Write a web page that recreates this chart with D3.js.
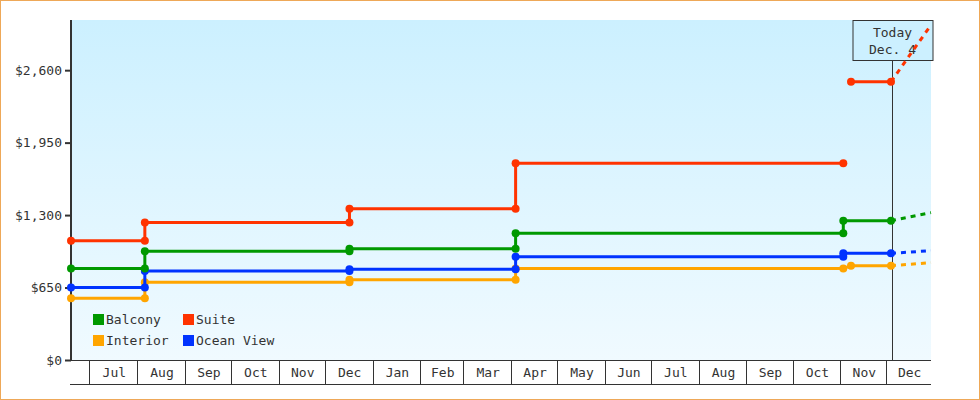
<!DOCTYPE html>
<html><head><meta charset="utf-8">
<script src="https://cdn.jsdelivr.net/npm/d3@7"></script>
<style>
html,body{margin:0;padding:0;background:#fff;}
svg{display:block;}
text{font-family:"DejaVu Sans Mono",monospace;font-size:13px;fill:#333;}
</style></head>
<body><svg id="chart" width="980" height="400"></svg>
<script>
const seriesNames = ["Balcony", "Suite", "Interior", "Ocean View"];
const seriesColors = ["#009900", "#ff3300", "#ffa500", "#0033ff"];
// [date, value] step points (historical)
const balconyPts = [["2014-06-19",820],["2014-08-06",820],["2014-08-06",975],["2014-12-17",975],["2014-12-17",999],["2015-04-04",999],["2015-04-04",1136],["2015-11-03",1136],["2015-11-03",1250],["2015-12-04",1250]];
const suitePtsA = [["2014-06-19",1070],["2014-08-06",1070],["2014-08-06",1234],["2014-12-17",1234],["2014-12-17",1357],["2015-04-04",1357],["2015-04-04",1764],["2015-11-03",1764]];
const suitePtsB = [["2015-11-08",2496],["2015-12-04",2496]];
const interiorPts = [["2014-06-19",553],["2014-08-06",553],["2014-08-06",697],["2014-12-17",697],["2014-12-17",720],["2015-04-04",720],["2015-04-04",820],["2015-11-03",820],["2015-11-08",846],["2015-12-04",846]];
const oceanPts = [["2014-06-19",650],["2014-08-06",650],["2014-08-06",798],["2014-12-17",798],["2014-12-17",815],["2015-04-04",815],["2015-04-04",927],["2015-11-03",927],["2015-11-03",957],["2015-12-04",957]];
// projections [from today, to end]
const balconyProj = [["2015-12-04",1250],["2015-12-30",1322]];
const suiteProj = [["2015-12-04",2496],["2015-12-30",3005]];
const interiorProj = [["2015-12-04",846],["2015-12-30",873]];
const oceanProj = [["2015-12-04",957],["2015-12-30",981]];
const yTicks = [0, 650, 1300, 1950, 2600];
const monthLabels = ["Jul","Aug","Sep","Oct","Nov","Dec","Jan","Feb","Mar","Apr","May","Jun","Jul","Aug","Sep","Oct","Nov","Dec"];
const todayLabel = ["Today", "Dec. 4"];
const todayDate = "2015-12-04T12:00";
const xStart = "2014-06-19", xEnd = "2015-12-30";
const yMax = 3050;

const parse = s => new Date(s.length > 10 ? s : s + "T00:00");
const svg = d3.select("#chart");
const L = 71, R = 931, T = 20, B = 360;

// outer border
svg.append("rect").attr("x",0.5).attr("y",0.5).attr("width",979).attr("height",399)
  .attr("fill","#fff").attr("stroke","#eea858").attr("stroke-width",1);

const x = d3.scaleTime().domain([parse(xStart), parse(xEnd)]).range([L, R]);
const y = d3.scaleLinear().domain([0, yMax]).range([B, T]);

// background gradient
const defs = svg.append("defs");
const grad = defs.append("linearGradient").attr("id","bg").attr("x1",0).attr("y1",0).attr("x2",0).attr("y2",1);
grad.append("stop").attr("offset","0%").attr("stop-color","#ccf0ff");
grad.append("stop").attr("offset","100%").attr("stop-color","#f0faff");
svg.append("rect").attr("x",L).attr("y",T).attr("width",R-L).attr("height",B-T).attr("fill","url(#bg)");

defs.append("clipPath").attr("id","clip").append("rect").attr("x",L).attr("y",0).attr("width",R-L+1).attr("height",B);

// y axis
const yAxis = d3.axisLeft(y).tickValues(yTicks).tickSize(6).tickPadding(3)
  .tickFormat(d => "$" + d3.format(",")(d));
const gy = svg.append("g").attr("transform",`translate(${L},0)`).call(yAxis);
gy.select(".domain").remove();
gy.selectAll(".tick line").attr("stroke","#333").attr("stroke-width",2);
gy.selectAll(".tick text").attr("fill","#333").style("font-family","DejaVu Sans Mono").style("font-size","13px");
svg.append("line").attr("x1",L).attr("x2",L).attr("y1",T).attr("y2",B+1).attr("stroke","#333").attr("stroke-width",2);

// x axis month bands
const months = d3.timeMonth.range(d3.timeMonth.ceil(parse(xStart)), parse(xEnd));
const gx = svg.append("g");
gx.append("line").attr("x1",L-1).attr("x2",R).attr("y1",B+0.5).attr("y2",B+0.5).attr("stroke","#333");
gx.append("line").attr("x1",L-1).attr("x2",R).attr("y1",384.5).attr("y2",384.5).attr("stroke","#333");
months.forEach((m, i) => {
  const x0 = Math.round(x(m)) + 0.5;
  gx.append("line").attr("x1",x0).attr("x2",x0).attr("y1",B).attr("y2",385).attr("stroke","#333");
  const next = i + 1 < months.length ? months[i+1] : parse(xEnd);
  gx.append("text").attr("x",(x(m)+x(next))/2 + 1).attr("y",377).attr("text-anchor","middle").text(monthLabels[i]);
});

// today line
const tx = Math.round(x(parse(todayDate))) + 0.5;
svg.append("line").attr("x1",tx).attr("x2",tx).attr("y1",60).attr("y2",B).attr("stroke","#333").attr("stroke-width",1);
const box = svg.append("g");
box.append("rect").attr("x",tx-39.5).attr("y",20.5).attr("width",80).attr("height",40)
  .attr("fill","#ccf0ff").attr("stroke","#333").attr("stroke-width",1);
box.append("text").attr("x",tx).attr("y",37).attr("text-anchor","middle").text(todayLabel[0]);
box.append("text").attr("x",tx).attr("y",54).attr("text-anchor","middle").text(todayLabel[1]);

const line = d3.line().x(d => x(parse(d[0]))).y(d => y(d[1]));
const hist = [[balconyPts],[suitePtsA, suitePtsB],[interiorPts],[oceanPts]];
const proj = [balconyProj, suiteProj, interiorProj, oceanProj];
const order = [2,3,0,1];
order.forEach(i => {
  const c = seriesColors[i];
  svg.append("path").attr("d", line(proj[i])).attr("fill","none").attr("stroke",c)
    .attr("stroke-width",3).attr("stroke-dasharray","5,5").attr("clip-path","url(#clip)");
  hist[i].forEach(pts => {
    svg.append("path").attr("d", line(pts)).attr("fill","none").attr("stroke",c).attr("stroke-width",3);
    svg.append("g").selectAll("circle").data(pts).join("circle")
      .attr("cx", d => x(parse(d[0]))).attr("cy", d => y(d[1])).attr("r",4).attr("fill",c);
  });
});

// legend
const leg = svg.append("g");
seriesNames.forEach((n, i) => {
  const lx = i % 2 === 0 ? 93 : 183;
  const ly = i < 2 ? 314 : 335;
  leg.append("rect").attr("x",lx).attr("y",ly).attr("width",11).attr("height",11).attr("fill",seriesColors[i]);
  leg.append("text").attr("x",lx+13).attr("y",ly+10).text(n);
});
</script></body></html>
